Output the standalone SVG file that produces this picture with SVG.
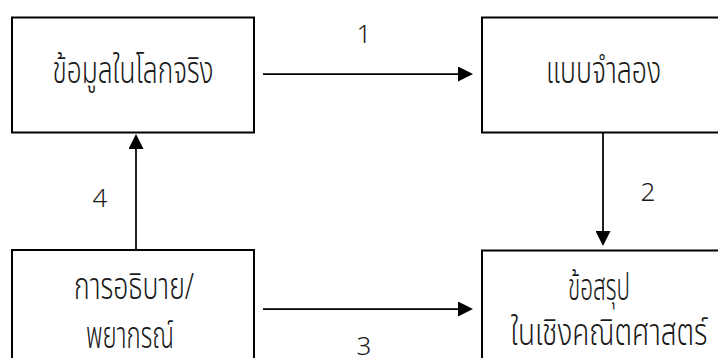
<svg xmlns="http://www.w3.org/2000/svg" width="718" height="358" viewBox="0 0 718 358">
  <style>
    .box { fill: #ffffff; stroke: #000000; stroke-width: 2; }
    .th { font-family: "Noto Sans Thai", "Noto Sans", "DejaVu Sans", sans-serif; font-size: 37px; font-weight: 300; fill: #1a1a1a; text-anchor: middle; }
    .num { font-family: "Noto Sans", "Liberation Sans", sans-serif; font-size: 26px; font-weight: 300; fill: #1a1a1a; text-anchor: middle; }
    .conn { stroke: #000000; stroke-width: 1.75; fill: none; marker-end: url(#arrow); }
  </style>
  <defs>
    <marker id="arrow" markerUnits="userSpaceOnUse" markerWidth="15" markerHeight="15" refX="0" refY="7.5" orient="auto" viewBox="0 0 15 15">
      <path d="M0,0 L15,7.5 L0,15 z" fill="#000000"/>
    </marker>
  </defs>
  <rect width="718" height="358" fill="#ffffff"/>
  <g id="node-real-world">
    <rect class="box" x="12" y="17.5" width="242" height="115"/>
    <text class="th" x="133" y="83" textLength="161" lengthAdjust="spacingAndGlyphs">ข้อมูลในโลกจริง</text>
  </g>
  <g id="node-model">
    <rect class="box" x="482" y="17.5" width="243" height="115"/>
    <text class="th" x="603.5" y="83" textLength="115" lengthAdjust="spacingAndGlyphs">แบบจำลอง</text>
  </g>
  <g id="node-explain">
    <rect class="box" x="12" y="250" width="242" height="120"/>
    <text class="th" x="134" y="299" textLength="120" lengthAdjust="spacingAndGlyphs">การอธิบาย/</text>
    <text class="th" x="130" y="348" textLength="88" lengthAdjust="spacingAndGlyphs">พยากรณ์</text>
  </g>
  <g id="node-conclusion">
    <rect class="box" x="482" y="250.5" width="243" height="120"/>
    <text class="th" x="599" y="300" textLength="62" lengthAdjust="spacingAndGlyphs">ข้อสรุป</text>
    <text class="th" x="609" y="345" textLength="197" lengthAdjust="spacingAndGlyphs">ในเชิงคณิตศาสตร์</text>
  </g>
  <g id="connectors">
    <line class="conn" x1="263" y1="74" x2="458" y2="74"/>
    <line class="conn" x1="603" y1="133" x2="603" y2="231"/>
    <line class="conn" x1="263" y1="309" x2="458" y2="309"/>
    <line class="conn" x1="136" y1="250" x2="136" y2="149"/>
    <text class="num" x="364" y="43">1</text>
    <text class="num" x="648" y="201">2</text>
    <text class="num" x="364" y="355">3</text>
    <text class="num" x="100" y="207">4</text>
  </g>
</svg>
